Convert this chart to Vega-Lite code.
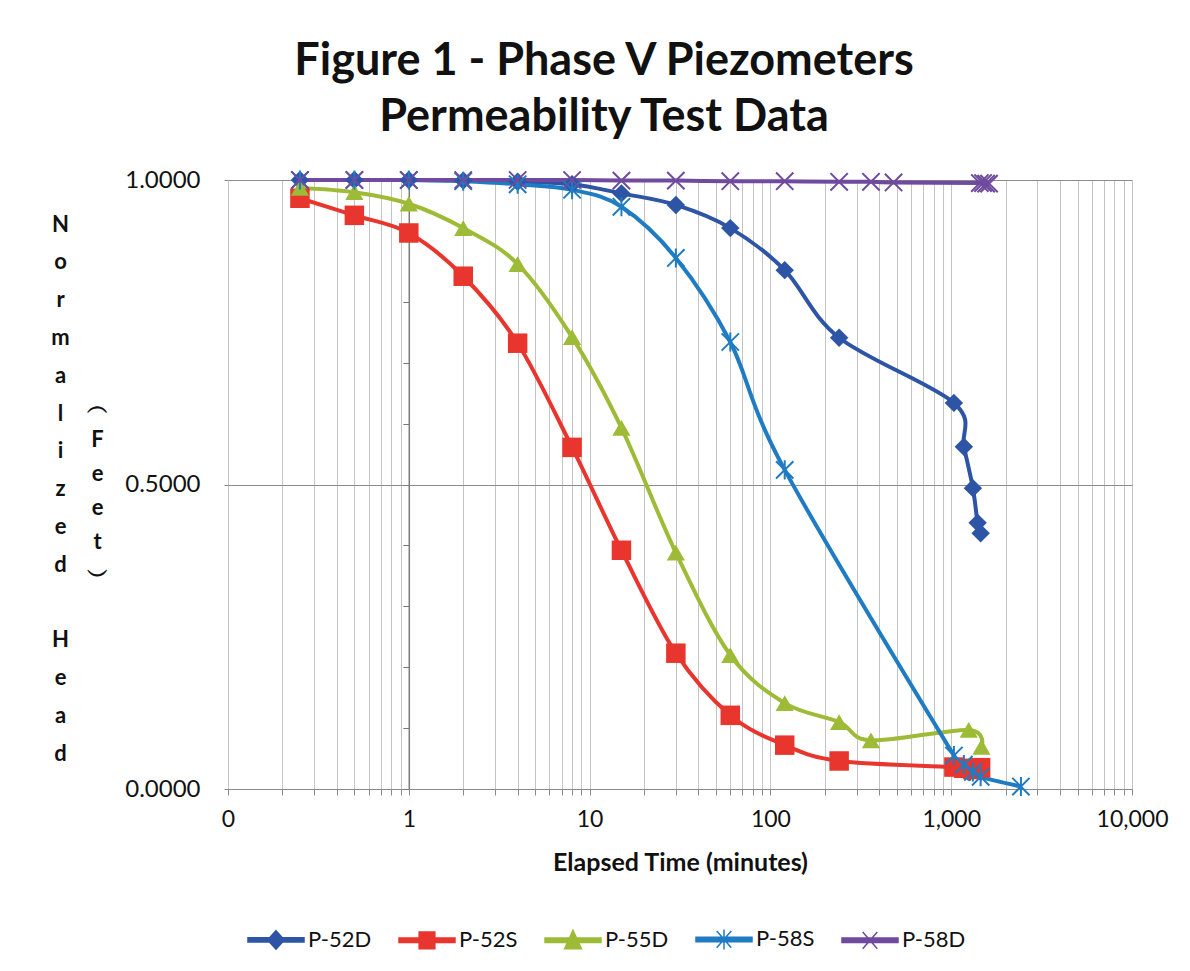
{
  "$schema": "https://vega.github.io/schema/vega-lite/v6.json",
  "width": 904,
  "height": 609,
  "autosize": "none",
  "padding": {"left": 228, "top": 180, "right": 58, "bottom": 182},
  "background": "white",
  "title": {
    "text": ["Figure 1 - Phase V Piezometers", "Permeability Test Data"],
    "font": "Lato",
    "fontSize": 45,
    "fontWeight": "bold",
    "lineHeight": 56,
    "color": "#111111",
    "anchor": "middle",
    "dx": -76,
    "offset": 26
  },
  "datasets": {
    "pts": [
      {"s": "P-52D", "t": 0.25, "v": 1.0},
      {"s": "P-52D", "t": 0.5, "v": 1.0},
      {"s": "P-52D", "t": 1, "v": 1.0},
      {"s": "P-52D", "t": 2, "v": 0.999},
      {"s": "P-52D", "t": 4, "v": 0.997},
      {"s": "P-52D", "t": 8, "v": 0.993},
      {"s": "P-52D", "t": 15, "v": 0.978},
      {"s": "P-52D", "t": 30, "v": 0.959},
      {"s": "P-52D", "t": 60, "v": 0.921},
      {"s": "P-52D", "t": 120, "v": 0.852},
      {"s": "P-52D", "t": 240, "v": 0.741},
      {"s": "P-52D", "t": 1035, "v": 0.634},
      {"s": "P-52D", "t": 1175, "v": 0.562},
      {"s": "P-52D", "t": 1318, "v": 0.494},
      {"s": "P-52D", "t": 1400, "v": 0.437},
      {"s": "P-52D", "t": 1455, "v": 0.42},
      {"s": "P-52S", "t": 0.25, "v": 0.97},
      {"s": "P-52S", "t": 0.5, "v": 0.942},
      {"s": "P-52S", "t": 1, "v": 0.913},
      {"s": "P-52S", "t": 2, "v": 0.842},
      {"s": "P-52S", "t": 4, "v": 0.732},
      {"s": "P-52S", "t": 8, "v": 0.561},
      {"s": "P-52S", "t": 15, "v": 0.392},
      {"s": "P-52S", "t": 30, "v": 0.223},
      {"s": "P-52S", "t": 60, "v": 0.121},
      {"s": "P-52S", "t": 120, "v": 0.072},
      {"s": "P-52S", "t": 240, "v": 0.046},
      {"s": "P-52S", "t": 1035, "v": 0.036},
      {"s": "P-52S", "t": 1175, "v": 0.034},
      {"s": "P-52S", "t": 1318, "v": 0.032},
      {"s": "P-52S", "t": 1455, "v": 0.035},
      {"s": "P-55D", "t": 0.25, "v": 0.987},
      {"s": "P-55D", "t": 0.5, "v": 0.98},
      {"s": "P-55D", "t": 1, "v": 0.961},
      {"s": "P-55D", "t": 2, "v": 0.921},
      {"s": "P-55D", "t": 4, "v": 0.862},
      {"s": "P-55D", "t": 8, "v": 0.742},
      {"s": "P-55D", "t": 15, "v": 0.593},
      {"s": "P-55D", "t": 30, "v": 0.388},
      {"s": "P-55D", "t": 60, "v": 0.22},
      {"s": "P-55D", "t": 120, "v": 0.141},
      {"s": "P-55D", "t": 240, "v": 0.11},
      {"s": "P-55D", "t": 360, "v": 0.08},
      {"s": "P-55D", "t": 1250, "v": 0.097},
      {"s": "P-55D", "t": 1470, "v": 0.069},
      {"s": "P-58S", "t": 0.25, "v": 1.0},
      {"s": "P-58S", "t": 0.5, "v": 1.0},
      {"s": "P-58S", "t": 1, "v": 1.0},
      {"s": "P-58S", "t": 2, "v": 0.998},
      {"s": "P-58S", "t": 4, "v": 0.993},
      {"s": "P-58S", "t": 8, "v": 0.984},
      {"s": "P-58S", "t": 15, "v": 0.956},
      {"s": "P-58S", "t": 30, "v": 0.872},
      {"s": "P-58S", "t": 60, "v": 0.734},
      {"s": "P-58S", "t": 120, "v": 0.524},
      {"s": "P-58S", "t": 1035, "v": 0.055},
      {"s": "P-58S", "t": 1175, "v": 0.04},
      {"s": "P-58S", "t": 1318, "v": 0.028},
      {"s": "P-58S", "t": 1455, "v": 0.02},
      {"s": "P-58S", "t": 2430, "v": 0.004},
      {"s": "P-58D", "t": 0.25, "v": 1.0},
      {"s": "P-58D", "t": 0.5, "v": 1.0},
      {"s": "P-58D", "t": 1, "v": 1.0},
      {"s": "P-58D", "t": 2, "v": 1.0},
      {"s": "P-58D", "t": 4, "v": 1.0},
      {"s": "P-58D", "t": 8, "v": 1.0},
      {"s": "P-58D", "t": 15, "v": 0.999},
      {"s": "P-58D", "t": 30, "v": 0.999},
      {"s": "P-58D", "t": 60, "v": 0.998},
      {"s": "P-58D", "t": 120, "v": 0.998},
      {"s": "P-58D", "t": 240, "v": 0.997},
      {"s": "P-58D", "t": 360, "v": 0.997},
      {"s": "P-58D", "t": 480, "v": 0.996},
      {"s": "P-58D", "t": 1440, "v": 0.995},
      {"s": "P-58D", "t": 1500, "v": 0.995},
      {"s": "P-58D", "t": 1560, "v": 0.994},
      {"s": "P-58D", "t": 1620, "v": 0.994}
    ]
  },
  "data": {"name": "pts"},
  "encoding": {
    "x": {
      "field": "t",
      "type": "quantitative",
      "scale": {"type": "log", "domain": [0.1, 10000], "nice": false},
      "axis": {
        "values": [0.1, 0.2, 0.3, 0.4, 0.5, 0.6, 0.7, 0.8, 0.9, 1, 2, 3, 4, 5, 6, 7, 8, 9, 10, 20, 30, 40, 50, 60, 70, 80, 90, 100, 200, 300, 400, 500, 600, 700, 800, 900, 1000, 2000, 3000, 4000, 5000, 6000, 7000, 8000, 9000, 10000],
        "labelExpr": "datum.value == 0.1 ? '0' : (indexof([1, 10, 100, 1000, 10000], datum.value) >= 0 ? format(datum.value, ',') : '')",
        "labelOverlap": false,
        "labelBound": false,
        "labelFlush": false,
        "grid": true,
        "gridColor": "#c4c4c4",
        "gridWidth": 1,
        "domainColor": "#8a8a8a",
        "tickColor": "#8a8a8a",
        "tickSize": 6,
        "labelFont": "Lato",
        "labelFontSize": 23,
        "labelColor": "#111111",
        "labelPadding": 13,
        "title": "Elapsed Time (minutes)",
        "titleFont": "Lato",
        "titleFontSize": 25,
        "titleFontWeight": "bold",
        "titleColor": "#111111",
        "titlePadding": 19
      }
    }
  },
  "layer": [
    {
      "mark": {"type": "line", "interpolate": "cardinal", "strokeWidth": 4},
      "encoding": {
        "y": {
          "field": "v",
          "type": "quantitative",
          "scale": {"domain": [0, 1], "nice": false, "zero": false},
          "axis": {
            "values": [0, 0.5, 1],
            "format": ".4f",
            "domain": false,
            "grid": true,
            "gridColor": "#8c8c8c",
            "tickColor": "#8a8a8a",
            "tickSize": 4,
            "labelFont": "Lato",
            "labelFontSize": 24,
            "labelColor": "#111111",
            "labelPadding": 24,
            "title": ["N", "o", "r", "m", "a", "l", "i", "z", "e", "d", "\u200b", "H", "e", "a", "d"],
            "titleFont": "Lato",
            "titleFontSize": 22,
            "titleFontWeight": "bold",
            "titleColor": "#111111",
            "titleAngle": 0,
            "titleAlign": "center",
            "titleBaseline": "middle",
            "titleLineHeight": 37.8,
            "titleX": -168,
            "titleY": 44
          }
        },
        "color": {
          "field": "s",
          "type": "nominal",
          "scale": {"domain": ["P-52D", "P-52S", "P-55D", "P-58S", "P-58D"], "range": ["#2E54A6", "#E8352D", "#9DBB36", "#1F7CC3", "#6F4A9E"]}
        },
        "detail": {"field": "s"}
      }
    },
    {
      "transform": [{"filter": {"field": "s", "equal": "P-52D"}}],
      "mark": {"type": "point", "shape": "diamond", "filled": true, "size": 340, "opacity": 1},
      "encoding": {
        "y": {"field": "v", "type": "quantitative", "scale": {"domain": [0, 1], "nice": false, "zero": false}, "axis": null},
        "color": {"field": "s", "type": "nominal"}
      }
    },
    {
      "transform": [{"filter": {"field": "s", "equal": "P-52S"}}],
      "mark": {"type": "point", "shape": "square", "filled": true, "size": 380, "opacity": 1},
      "encoding": {
        "y": {"field": "v", "type": "quantitative", "scale": {"domain": [0, 1], "nice": false, "zero": false}, "axis": null},
        "color": {"field": "s", "type": "nominal"}
      }
    },
    {
      "transform": [{"filter": {"field": "s", "equal": "P-55D"}}],
      "mark": {"type": "point", "shape": "triangle-up", "filled": true, "size": 330, "opacity": 1},
      "encoding": {
        "y": {"field": "v", "type": "quantitative", "scale": {"domain": [0, 1], "nice": false, "zero": false}, "axis": null},
        "color": {"field": "s", "type": "nominal"}
      }
    },
    {
      "transform": [{"filter": {"field": "s", "equal": "P-58S"}}],
      "mark": {"type": "point", "shape": "M-1,-1L1,1M-1,1L1,-1M0,-1.1L0,1.1", "filled": false, "size": 300, "strokeWidth": 2, "opacity": 1},
      "encoding": {
        "y": {"field": "v", "type": "quantitative", "scale": {"domain": [0, 1], "nice": false, "zero": false}, "axis": null},
        "color": {"field": "s", "type": "nominal"}
      }
    },
    {
      "transform": [{"filter": {"field": "s", "equal": "P-58D"}}],
      "mark": {"type": "point", "shape": "M-1,-1L1,1M-1,1L1,-1", "filled": false, "size": 300, "strokeWidth": 2, "opacity": 1},
      "encoding": {
        "y": {"field": "v", "type": "quantitative", "scale": {"domain": [0, 1], "nice": false, "zero": false}, "axis": null},
        "color": {"field": "s", "type": "nominal"}
      }
    },
    {
      "mark": {"type": "point", "filled": true, "size": 100, "opacity": 0},
      "encoding": {
        "y": {
          "field": "v",
          "type": "quantitative",
          "scale": {"domain": [0, 1], "nice": false, "zero": false},
          "axis": {
            "orient": "left",
            "offset": -180.8,
            "values": [0, 0.1, 0.2, 0.3, 0.4, 0.5, 0.6, 0.7, 0.8, 0.9, 1],
            "labels": false,
            "grid": false,
            "domain": true,
            "domainColor": "#7a7a7a",
            "domainWidth": 1.5,
            "tickColor": "#7a7a7a",
            "tickSize": 6,
            "title": ["︵", "F", "e", "e", "t", "︶"],
            "titleFont": "Lato",
            "titleFontSize": 22,
            "titleFontWeight": "bold",
            "titleColor": "#111111",
            "titleAngle": 0,
            "titleAlign": "center",
            "titleBaseline": "middle",
            "titleLineHeight": 34,
            "titleX": -311.8,
            "titleY": 225
          }
        },
        "color": {
          "field": "s",
          "type": "nominal",
          "legend": {
            "orient": "none",
            "legendX": 19,
            "legendY": 730,
            "direction": "horizontal",
            "title": null,
            "labelFont": "Lato",
            "labelFontSize": 22,
            "labelColor": "#111111",
            "labelOffset": 3,
            "columnPadding": 24,
            "symbolSize": 3136,
            "symbolOpacity": 1,
            "symbolStrokeWidth": 1.5,
            "encode": {"symbols": {"update": {"stroke": {"scale": "color", "field": "value"}, "strokeWidth": {"value": 1.5}, "opacity": {"value": 1}}}}
          }
        },
        "shape": {
          "field": "s",
          "type": "nominal",
          "scale": {
            "domain": ["P-52D", "P-52S", "P-55D", "P-58S", "P-58D"],
            "range": [
              "M-1,-0.08H1V0.08H-1Z M0,-0.33L0.3,0L0,0.33L-0.3,0Z",
              "M-1,-0.08H1V0.08H-1Z M-0.28,-0.3H0.28V0.3H-0.28Z",
              "M-1,-0.08H1V0.08H-1Z M0,-0.36L0.3,0.3H-0.3Z",
              "M-1,-0.08H1V0.08H-1Z M-0.26,-0.3L0.26,0.3M-0.26,0.3L0.26,-0.3M0,-0.36V0.36",
              "M-1,-0.08H1V0.08H-1Z M-0.26,-0.3L0.26,0.3M-0.26,0.3L0.26,-0.3"
            ]
          },
          "legend": {
            "orient": "none",
            "legendX": 19,
            "legendY": 730,
            "direction": "horizontal",
            "title": null,
            "labelFont": "Lato",
            "labelFontSize": 22,
            "labelColor": "#111111",
            "labelOffset": 3,
            "columnPadding": 24,
            "symbolSize": 3136,
            "symbolOpacity": 1,
            "symbolStrokeWidth": 1.5,
            "encode": {"symbols": {"update": {"stroke": {"scale": "color", "field": "value"}, "strokeWidth": {"value": 1.5}, "opacity": {"value": 1}}}}
          }
        }
      }
    }
  ],
  "resolve": {"axis": {"y": "independent"}},
  "config": {
    "view": {"stroke": null},
    "font": "Lato"
  }
}
